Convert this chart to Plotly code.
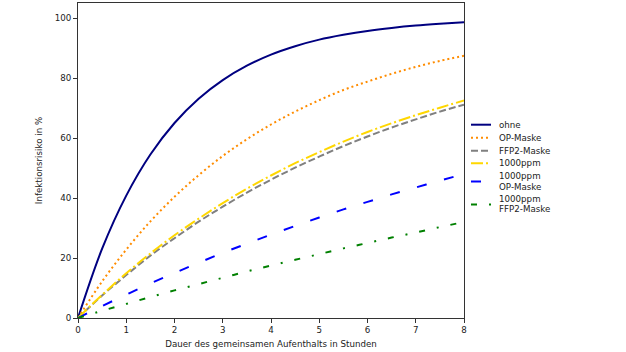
import plotly.graph_objects as go

hours = [0, 0.5, 1, 1.5, 2, 2.5, 3, 3.5, 4, 4.5, 5, 5.5, 6, 6.5, 7, 7.5, 8]

ohne = [0, 23.1, 40.8, 54.5, 65.0, 73.1, 79.3, 84.1, 87.8, 90.6, 92.8, 94.4, 95.7, 96.7, 97.5, 98.1, 98.6]
op_maske = [0, 12.2, 22.8, 32.2, 40.4, 47.6, 54.0, 59.6, 64.5, 68.8, 72.6, 76.0, 78.8, 81.4, 83.7, 85.7, 87.4]
ffp2_maske = [0, 7.5, 14.3, 20.8, 26.6, 32.1, 37.1, 41.8, 46.1, 50.1, 53.8, 57.3, 60.5, 63.5, 66.2, 68.8, 71.1]
ppm1000 = [0, 7.7, 14.9, 21.5, 27.6, 33.1, 38.3, 43.1, 47.5, 51.6, 55.3, 58.8, 62.0, 64.9, 67.6, 70.1, 72.5]
ppm1000_op = [0, 4.0, 7.8, 11.5, 15.0, 18.4, 21.7, 24.8, 27.8, 30.7, 33.5, 36.2, 38.7, 41.2, 43.5, 45.8, 48.0]
ppm1000_ffp2 = [0, 2.4, 4.7, 7.0, 9.2, 11.3, 13.4, 15.5, 17.5, 19.4, 21.3, 23.2, 25.0, 26.8, 28.5, 30.3, 32.0]

names = ["ohne", "OP-Maske", "FFP2-Maske", "1000ppm", "1000ppm<br>OP-Maske", "1000ppm<br>FFP2-Maske"]
series = [ohne, op_maske, ffp2_maske, ppm1000, ppm1000_op, ppm1000_ffp2]
colors = ["#000080", "#ff8c00", "#808080", "#ffd700", "#0000ff", "#008000"]
dashes = ["solid", "2px,3px", "7px,3px", "12px,3px,2px,3px", "10px,18px", "6px,12px,2px,12px"]
legend_dashes = ["solid", "2px,3px", "7px,3px", "12px,3px,2px,3px", "10px,18px", "6px,12px,2px,12px"]

FS = 8.7
TXT = "#222"

fig = go.Figure()
for n, s, c, d in zip(names, series, colors, dashes):
    fig.add_trace(go.Scatter(x=hours, y=s, name=n, mode="lines", showlegend=False,
                             line=dict(color=c, width=2, dash=d, shape="spline")))

# manual legend (compact spacing like the reference)
L, R, T, B = 78, 464, 3, 318
W, H = R - L, B - T
def px(xp):
    return (xp - L) / W
def py(yp):
    return (B - yp) / H

sym_y = [124.7, 137.7, 150.7, 163.2, 181.5, 204.5]
text_lines = [[("ohne", 124.7)], [("OP-Maske", 137.7)], [("FFP2-Maske", 150.7)], [("1000ppm", 163.2)],
              [("1000ppm", 176.3), ("OP-Maske", 186.7)], [("1000ppm", 199.3), ("FFP2-Maske", 209.0)]]
shapes = []
annotations = []
for i in range(len(names)):
    shapes.append(dict(type="line", xref="paper", yref="paper", x0=px(471), x1=px(491),
                       y0=py(sym_y[i]), y1=py(sym_y[i]),
                       line=dict(color=colors[i], width=2, dash=legend_dashes[i])))
    for t, yy in text_lines[i]:
        annotations.append(dict(text=t, xref="paper", yref="paper", x=px(497), y=py(yy),
                                xanchor="left", yanchor="middle", showarrow=False,
                                font=dict(size=FS, color=TXT)))

axis_common = dict(showgrid=False, zeroline=False, showline=True, linecolor="#333",
                   linewidth=1, mirror=True, ticks="outside", ticklen=4, tickcolor="#333",
                   tickfont=dict(size=FS, color=TXT))
fig.update_xaxes(range=[0, 8], dtick=1, title=dict(text="Dauer des gemeinsamen Aufenthalts in Stunden",
                 font=dict(size=FS, color=TXT), standoff=6), **axis_common)
fig.update_yaxes(range=[0, 105], tickvals=[0, 20, 40, 60, 80, 100],
                 title=dict(text="Infektionsrisiko in %", font=dict(size=FS, color=TXT), standoff=10),
                 **axis_common)

fig.update_layout(
    width=626, height=352,
    margin=dict(l=L, r=626 - R, t=T, b=352 - B),
    plot_bgcolor="white", paper_bgcolor="white",
    font=dict(family="DejaVu Sans", size=FS, color=TXT),
    showlegend=False,
    shapes=shapes, annotations=annotations,
)

fig.write_html("out.html")
